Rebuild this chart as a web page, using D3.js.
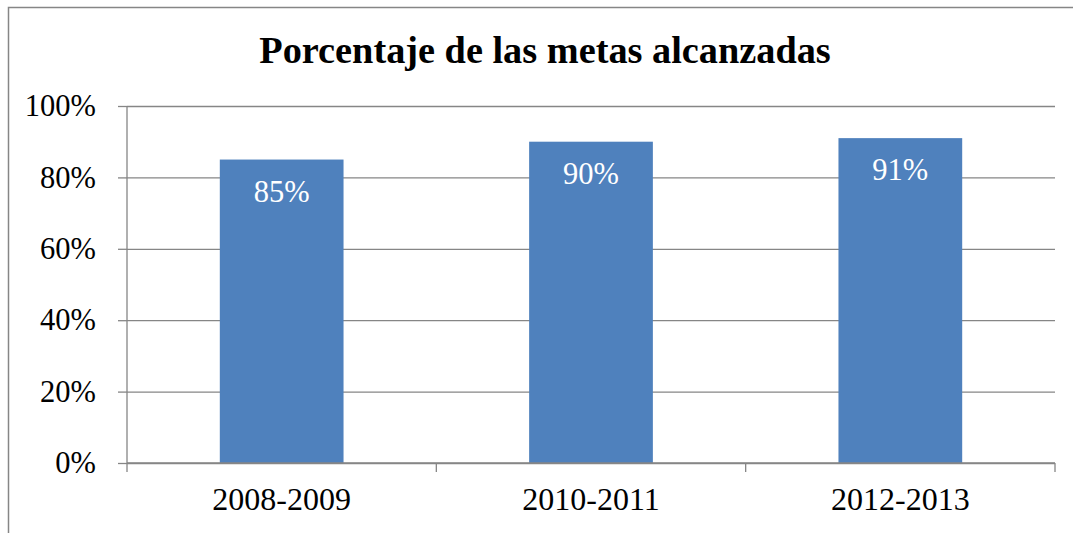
<!DOCTYPE html>
<html>
<head>
<meta charset="utf-8">
<script src="https://cdn.jsdelivr.net/npm/d3@7"></script>
<style>
  body { margin: 0; background: #fff; }
  svg { display: block; font-family: "Liberation Serif", "Times New Roman", serif; }
</style>
</head>
<body>
<svg id="chart" width="1073" height="533"></svg>
<script>
const categories = ['2008-2009', '2010-2011', '2012-2013'];
const values = [0.85, 0.90, 0.91];
const yTicks = [0, 0.2, 0.4, 0.6, 0.8, 1];
const title = 'Porcentaje de las metas alcanzadas';

const svg = d3.select('#chart');
const margin = { top: 106, left: 127, bottom: 70, right: 18 };
const width = 1073 - margin.left - margin.right;
const height = 533 - margin.top - margin.bottom;
const axisColor = '#868686';

// outer frame (only left and top edges are in view)
svg.append('path')
    .attr('d', 'M8.5,533V7.5H1073')
    .attr('fill', 'none')
    .attr('stroke', axisColor)
    .attr('stroke-width', 1.5);

svg.append('text')
    .attr('x', 545)
    .attr('y', 63)
    .attr('text-anchor', 'middle')
    .attr('font-weight', 'bold')
    .attr('font-size', 38.3)
    .text(title);

const plot = svg.append('g').attr('transform', `translate(${margin.left},${margin.top})`);

const x = d3.scaleBand().domain(categories).range([0, width]).paddingInner(0.6).paddingOuter(0.3);
const y = d3.scaleLinear().domain([0, 1]).range([height, 0]);

// gridlines
plot.append('g')
    .call(d3.axisLeft(y).tickValues(yTicks).tickSize(-width).tickFormat(''))
    .call(g => g.select('.domain').remove())
    .call(g => g.selectAll('line').attr('stroke', axisColor).attr('stroke-width', 1.3));

// y axis
plot.append('g')
    .call(d3.axisLeft(y).tickValues(yTicks).tickSize(9).tickPadding(22).tickFormat(d3.format('.0%')))
    .attr('font-family', null)
    .attr('font-size', null)
    .call(g => g.select('.domain').attr('d', `M0,0V${height + 9}`).attr('stroke', axisColor).attr('stroke-width', 1.3))
    .call(g => g.selectAll('line').attr('stroke', axisColor).attr('stroke-width', 1.3))
    .call(g => g.selectAll('text').attr('font-size', 30.5).attr('fill', '#000'));

// bars
plot.append('g').selectAll('rect')
    .data(values)
    .join('rect')
    .attr('x', (d, i) => x(categories[i]))
    .attr('y', d => y(d))
    .attr('width', x.bandwidth())
    .attr('height', d => height - y(d))
    .attr('fill', '#4F81BD');

// value labels
plot.append('g').selectAll('text')
    .data(values)
    .join('text')
    .attr('x', (d, i) => x(categories[i]) + x.bandwidth() / 2)
    .attr('y', d => y(d) + 42)
    .attr('text-anchor', 'middle')
    .attr('font-size', 30.5)
    .attr('fill', '#fff')
    .text(d3.format('.0%'));

// x axis with ticks at category boundaries
const xb = d3.scaleLinear().domain([0, categories.length]).range([0, width]);
const xAxis = plot.append('g').attr('transform', `translate(0,${height})`);
xAxis.append('line')
    .attr('x1', 0).attr('x2', width)
    .attr('stroke', axisColor).attr('stroke-width', 1.3);
xAxis.selectAll('.sep')
    .data(d3.range(1, categories.length + 1))
    .join('line')
    .attr('class', 'sep')
    .attr('x1', d => xb(d)).attr('x2', d => xb(d))
    .attr('y1', 0).attr('y2', 9)
    .attr('stroke', axisColor).attr('stroke-width', 1.3);
xAxis.selectAll('.cat')
    .data(categories)
    .join('text')
    .attr('class', 'cat')
    .attr('x', d => x(d) + x.bandwidth() / 2)
    .attr('y', 47)
    .attr('text-anchor', 'middle')
    .attr('font-size', 32)
    .text(d => d);
</script>
</body>
</html>
